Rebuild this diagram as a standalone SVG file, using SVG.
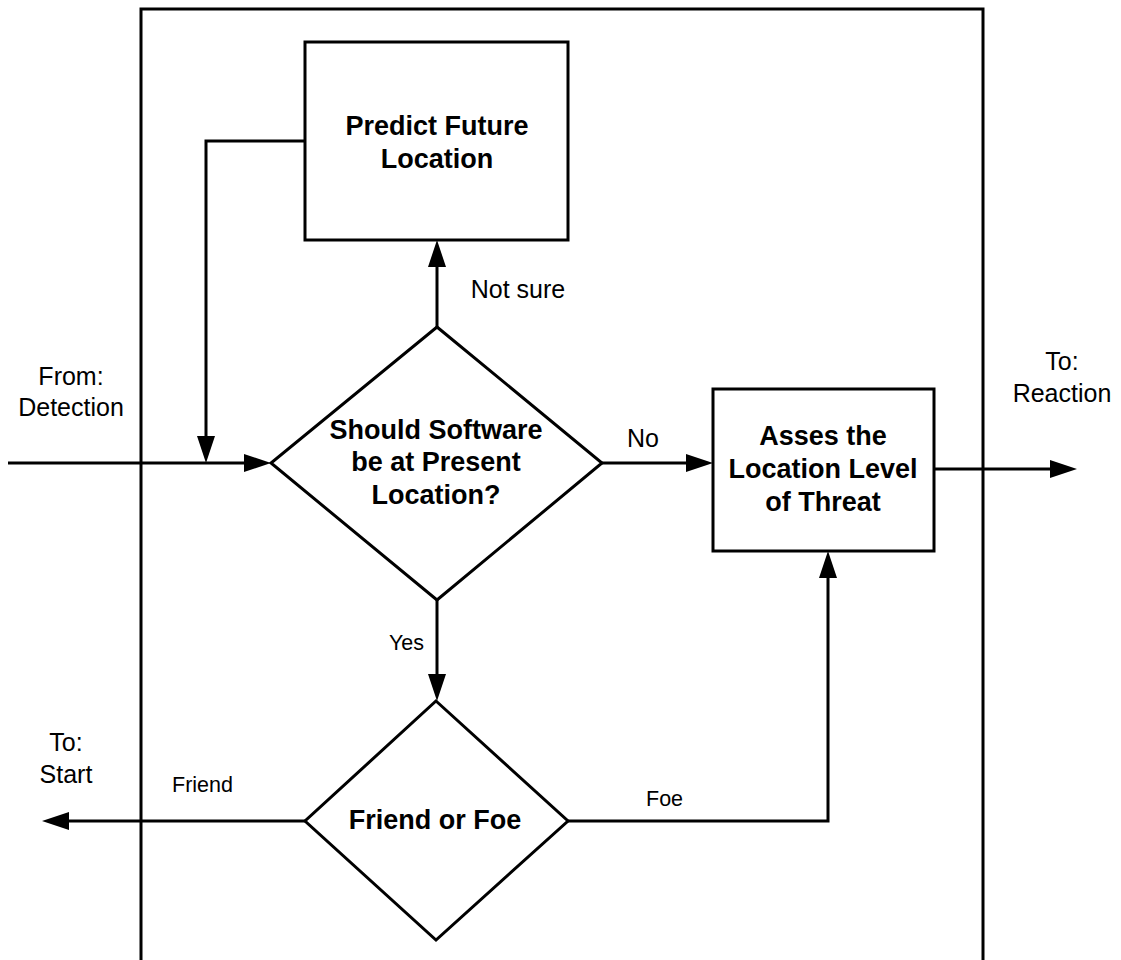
<svg xmlns="http://www.w3.org/2000/svg" width="1121" height="960" viewBox="0 0 1121 960">
<style>
  .shape { fill: #fff; stroke: #000; stroke-width: 3; }
  .frame { fill: none; stroke: #000; stroke-width: 3; }
  .conn { fill: none; stroke: #000; stroke-width: 3; }
  .bold { font-family: "Liberation Sans", Arial, sans-serif; font-weight: bold; font-size: 27px; fill: #000; text-anchor: middle; }
  .lbl { font-family: "Liberation Sans", Arial, sans-serif; font-size: 25px; fill: #000; text-anchor: middle; }
  .small { font-family: "Liberation Sans", Arial, sans-serif; font-size: 21.5px; fill: #000; }
</style>
<defs>
  <marker id="arr" viewBox="0 0 27 18" refX="17" refY="9" markerWidth="27" markerHeight="18" orient="auto" markerUnits="userSpaceOnUse">
    <path d="M0,0 L27,9 L0,18 z" fill="#000"/>
  </marker>
</defs>
<rect width="1121" height="960" fill="#fff"/>
<rect id="frame" class="frame" x="141" y="9" width="842" height="960"/>

<g id="connectors">
  <path class="conn" d="M8,463 H261" marker-end="url(#arr)"/>
  <path class="conn" d="M305,141 H206 V453" marker-end="url(#arr)"/>
  <path class="conn" d="M437,327 V250" marker-end="url(#arr)"/>
  <path class="conn" d="M602,463 H703" marker-end="url(#arr)"/>
  <path class="conn" d="M934,469 H1067" marker-end="url(#arr)"/>
  <path class="conn" d="M437,600 V691" marker-end="url(#arr)"/>
  <path class="conn" d="M305,821 H52" marker-end="url(#arr)"/>
  <path class="conn" d="M568,821 H828 V561" marker-end="url(#arr)"/>
</g>

<g id="predict">
  <rect class="shape" x="305" y="42" width="263" height="198"/>
  <text class="bold" x="437" y="135">Predict Future</text>
  <text class="bold" x="437" y="168">Location</text>
</g>

<g id="decision-location">
  <polygon class="shape" points="437,327 602,463 437,600 271,463"/>
  <text class="bold" x="436" y="439">Should Software</text>
  <text class="bold" x="436" y="471">be at Present</text>
  <text class="bold" x="436" y="504">Location?</text>
</g>

<g id="assess">
  <rect class="shape" x="713" y="389" width="221" height="162"/>
  <text class="bold" x="823" y="445">Asses the</text>
  <text class="bold" x="823" y="478">Location Level</text>
  <text class="bold" x="823" y="511">of Threat</text>
</g>

<g id="decision-friend">
  <polygon class="shape" points="436,701 568,821 436,940 305,821"/>
  <text class="bold" x="435" y="829">Friend or Foe</text>
</g>

<g id="labels">
  <text class="lbl" x="71" y="385">From:</text>
  <text class="lbl" x="71" y="416">Detection</text>
  <text class="lbl" x="1062" y="370">To:</text>
  <text class="lbl" x="1062" y="402">Reaction</text>
  <text class="lbl" x="66" y="751">To:</text>
  <text class="lbl" x="66" y="783">Start</text>
  <text class="lbl" x="518" y="298">Not sure</text>
  <text class="lbl" x="643" y="447">No</text>
  <text class="small" x="389" y="650">Yes</text>
  <text class="small" x="172" y="792">Friend</text>
  <text class="small" x="646" y="806">Foe</text>
</g>
</svg>
